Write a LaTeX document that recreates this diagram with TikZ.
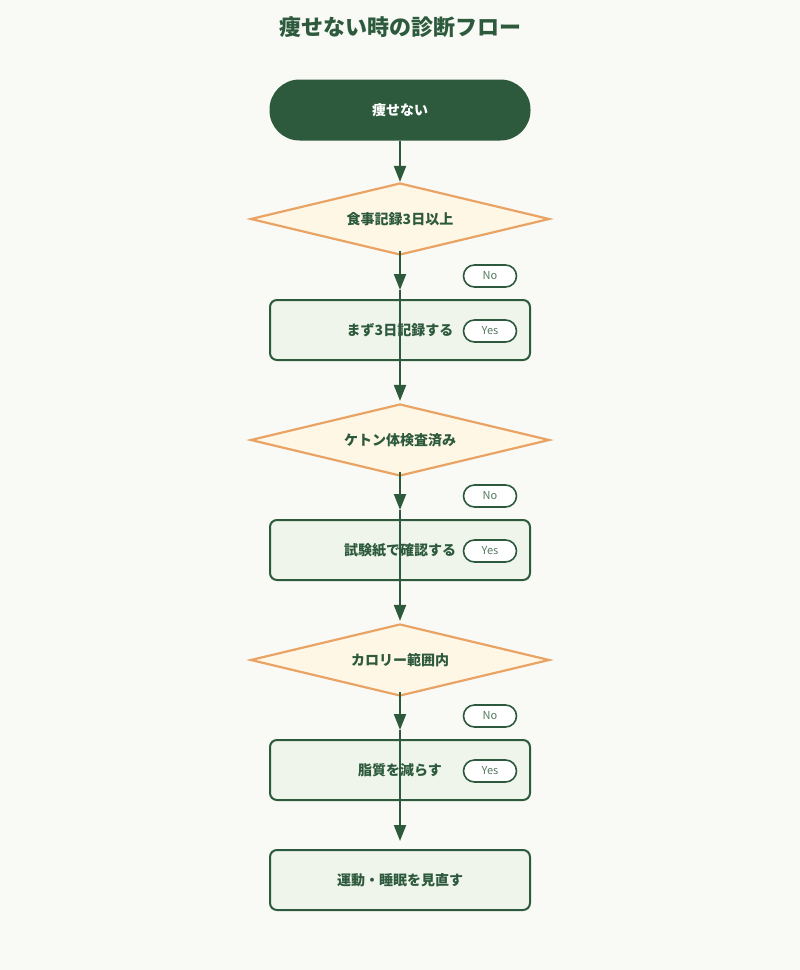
\documentclass[tikz,border=0pt]{standalone}
\usepackage{fontspec}
\setmainfont{Noto Sans CJK JP}
\usetikzlibrary{positioning, arrows.meta, shapes.geometric}

\definecolor{bgcol}{HTML}{F9FAF5}
\definecolor{darkgreen}{HTML}{2D5A3D}
\definecolor{boxfill}{HTML}{F0F5EC}
\definecolor{qorange}{HTML}{E8A365}
\definecolor{qfill}{HTML}{FFF7E6}
\definecolor{pilltext}{HTML}{557A62}

\tikzset{
    startbox/.style={draw=none, fill=darkgreen, text=white, font=\bfseries\fontsize{14}{16}\selectfont,
        minimum width=261pt, minimum height=61pt, rounded corners=30pt},
    question/.style={diamond, aspect=4.15, draw=qorange, line width=2.2pt, fill=qfill, text=darkgreen,
        font=\bfseries\fontsize{14}{16}\selectfont, minimum width=299pt, minimum height=72pt, inner sep=0pt},
    actionbox/.style={draw=darkgreen, line width=2pt, fill=boxfill, text=darkgreen,
        font=\bfseries\fontsize{14}{16}\selectfont, minimum width=260pt, minimum height=60pt, rounded corners=7pt},
    pill/.style={draw=darkgreen, line width=1.6pt, fill=white, text=pilltext,
        font=\fontsize{11}{13}\selectfont, minimum width=53pt, minimum height=22pt, rounded corners=11pt, inner sep=0pt},
    flow/.style={draw=darkgreen, line width=2pt, -{Triangle[length=16pt, width=12pt]}}
}

\begin{document}
\begin{tikzpicture}[x=1pt, y=-1pt]
    \fill[bgcol] (0,0) rectangle (800,970);
    \useasboundingbox (0,0) rectangle (800,970);

    \node (title) [text=darkgreen, font=\bfseries\fontsize{22}{26}\selectfont] at (400,27) {痩せない時の診断フロー};

    % main column
    \node (start) [startbox] at (400,110) {痩せない};
    \node (q1) [question] at (400,219) {食事記録3日以上};
    \node (a1) [actionbox] at (400,330) {まず3日記録する};
    \node (q2) [question] at (400,440) {ケトン体検査済み};
    \node (a2) [actionbox] at (400,550) {試験紙で確認する};
    \node (q3) [question] at (400,660) {カロリー範囲内};
    \node (a3) [actionbox] at (400,770) {脂質を減らす};
    \node (goal) [actionbox] at (400,880) {運動・睡眠を見直す};

    % branch labels
    \node (no1) [pill] at (490,276) {No};
    \node (yes1) [pill] at (490,331) {Yes};
    \node (no2) [pill] at (490,496) {No};
    \node (yes2) [pill] at (490,551) {Yes};
    \node (no3) [pill] at (490,716) {No};
    \node (yes3) [pill] at (490,771) {Yes};

    % connectors
    \coordinate (m1) at (400,290);
    \coordinate (m3) at (400,510);
    \coordinate (m2) at (400,730);
    \draw[flow] (start.south) -- (q1.north);
    \draw[flow] ([yshift=5pt]q1.south) -- (m1);
    \draw[flow] (m1) -- ([yshift=2pt]q2.north);
    \draw[flow] ([yshift=5pt]q2.south) -- (m3);
    \draw[flow] (m3) -- ([yshift=2pt]q3.north);
    \draw[flow] ([yshift=5pt]q3.south) -- (m2);
    \draw[flow] (m2) -- ([yshift=8pt]goal.north);
\end{tikzpicture}
\end{document}
